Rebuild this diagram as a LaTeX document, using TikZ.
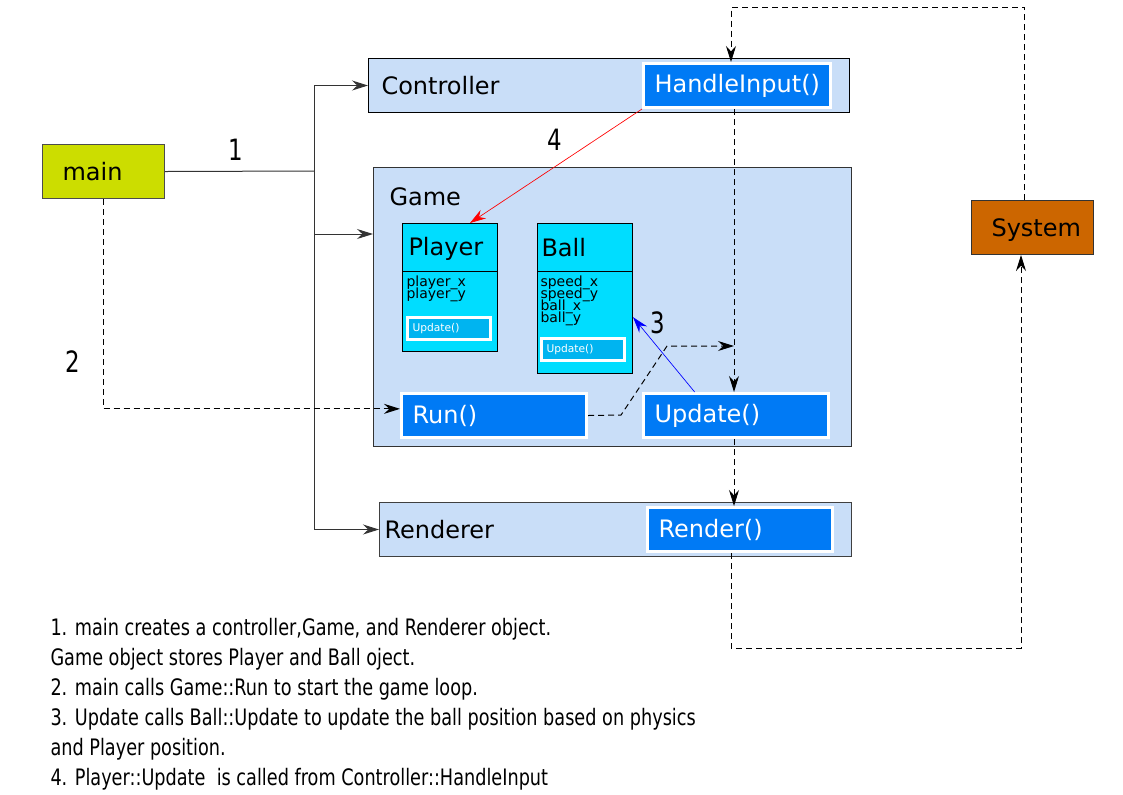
\documentclass[tikz,border=0pt]{standalone}
\usepackage{fontspec}
\setmainfont{DejaVu Sans}
\newfontfamily\narrowfont[FakeStretch=0.78]{DejaVu Sans}
\usetikzlibrary{arrows.meta}
\usetikzlibrary{positioning}
\hyphenpenalty=10000
\exhyphenpenalty=10000
\newcommand*{\px}{0.75pt}
\newcommand*{\bigfont}{\fontsize{18}{22}\selectfont}
\newcommand*{\fieldfont}{\fontsize{10.5}{9}\selectfont\lineskiplimit=-100pt\relax}
\definecolor{classbg}{RGB}{201,222,248}
\definecolor{methodblue}{RGB}{0,122,245}
\definecolor{objcyan}{RGB}{0,221,255}
\definecolor{smallblue}{RGB}{0,180,240}
\definecolor{mainyellow}{RGB}{204,221,0}
\definecolor{sysorange}{RGB}{204,102,0}

\begin{document}
\begin{tikzpicture}[x=\px, y=-\px, line width=\px,
    >={Stealth[length=12pt, width=7.5pt, inset=4pt]},
    every node/.style={inner sep=0},
    box/.style={rectangle, draw, anchor=north west, minimum height=54*\px, align=left, font=\bigfont},
    method/.style={rectangle, draw=white, line width=3*\px, fill=methodblue, text=white,
        minimum height=44*\px, inner xsep=11*\px, text width=163*\px, align=left, font=\bigfont},
    object/.style={rectangle, draw, fill=objcyan, anchor=north west, minimum width=95*\px},
    fields/.style={anchor=north west, align=left, font=\fieldfont},
    smallupdate/.style={rectangle, draw=white, line width=3*\px, fill=smallblue, text=white, anchor=north west,
        minimum height=22*\px, inner xsep=5*\px, text width=73*\px, align=left, font=\fontsize{8}{10}\selectfont},
    step label/.style={font=\narrowfont\fontsize{22}{26}\selectfont},
    dashed/.style={dash pattern=on 4.5pt off 3pt}]

    \useasboundingbox (0,0) rectangle (1123,794);

    % main and system
    \node (main) [box, fill=mainyellow, draw=black!70, inner xsep=20*\px, text width=82*\px] at (42,144) {main};
    \node (system) [box, fill=sysorange, draw=black!80, inner xsep=20*\px, text width=82*\px, text depth=0pt] at (971,200) {System};

    % controller
    \node (controller) [box, fill=classbg, inner xsep=13*\px, text width=455*\px] at (368,58) {Controller};
    \node (handle) [method, text width=165*\px, left=18*\px of controller.east] {HandleInput()};

    % game
    \node (game) [rectangle, draw=black!80, fill=classbg, anchor=north west, minimum width=478*\px, minimum height=279*\px,
        label={[anchor=west, xshift=16*\px, yshift=-30*\px, font=\bigfont]north west:Game}] at (373,167) {};

    \node (player) [object, minimum height=128*\px] at (402,223) {};
    \node (playername) [anchor=west, font=\bigfont] at (408,249) {Player};
    \draw (player.west |- 0,271) -- (player.east |- 0,271);
    \node (playerfields) [fields] at (406,275) {player\_x\\player\_y};
    \node (playerupdate) [smallupdate] at (406,316) {Update()};

    \node (ball) [object, minimum height=150*\px, right=39*\px of player.north east, anchor=north west] {};
    \node (ballname) [anchor=west, font=\bigfont] at (541,248) {Ball};
    \draw (ball.west |- 0,271) -- (ball.east |- 0,271);
    \node (ballfields) [fields] at (540,275) {speed\_x\\speed\_y\\ball\_x\\ball\_y};
    \node (ballupdate) [smallupdate] at (540,337) {Update()};

    \node (run) [method, anchor=north west] at (400,392) {Run()};
    \node (update) [method, right=54*\px of run] {Update()};

    % renderer
    \node (renderer) [box, fill=classbg, draw=black!75, inner xsep=5*\px, text width=462*\px] at (379,502) {Renderer};
    \node (render) [method, left=18*\px of renderer.east] {Render()};

    % 1: main creates the objects
    \coordinate (fork) at (314,171);
    \draw[black!80] (main.east) -- (fork);
    \draw[black!80, ->] (fork) |- (controller.west);
    \draw[black!80, ->] (fork) |- (game.west |- 0,234);
    \draw[black!80, ->] (fork) |- (renderer.west);

    % 2: main calls run
    \draw[dashed, ->] (main.south) |- ([yshift=5pt]run.west);

    % game loop
    \coordinate (kink1) at (621,415);
    \coordinate (kink2) at (667,346);
    \coordinate (loopin) at (734,346);
    \draw[dashed, ->] (run.east) -- (kink1) -- (kink2) -- (loopin);
    \draw[dashed, ->] (handle.south -| loopin) -- (update.north -| loopin);
    \draw[dashed, ->] (update.south -| loopin) -- (render.north -| loopin);

    \coordinate (topleft) at (731,7);
    \coordinate (botright) at (1021,648);
    \draw[dashed, ->] ([xshift=-6pt]system.north) |- (topleft) -- (topleft |- handle.north);
    \draw[dashed, ->] (render.south -| topleft) |- (botright) -- (botright |- system.south);

    % 3 and 4
    \draw[red, line width=0.5pt, ->] (handle.south west) -- ([xshift=15pt]player.north);
    \draw[blue, line width=0.5pt, ->] ([xshift=-31pt]update.north) -- ([yshift=-14pt]ball.east);

    \node (one) [step label] at (236,150) {1};
    \node (two) [step label] at (73,362) {2};
    \node (three) [step label] at (658,323) {3};
    \node (four) [step label] at (555,140) {4};

    \node (notes) [anchor=north west, align=left, font=\narrowfont\fontsize{17}{22.5}\selectfont] at (50,618)
        {1. main creates a controller,Game, and Renderer object.\\
         Game object stores Player and Ball oject.\\
         2. main calls Game::Run to start the game loop.\\
         3. Update calls Ball::Update to update the ball position based on physics\\
         and Player position.\\
         4. Player::Update\ \ is called from Controller::HandleInput};

\end{tikzpicture}
\end{document}
